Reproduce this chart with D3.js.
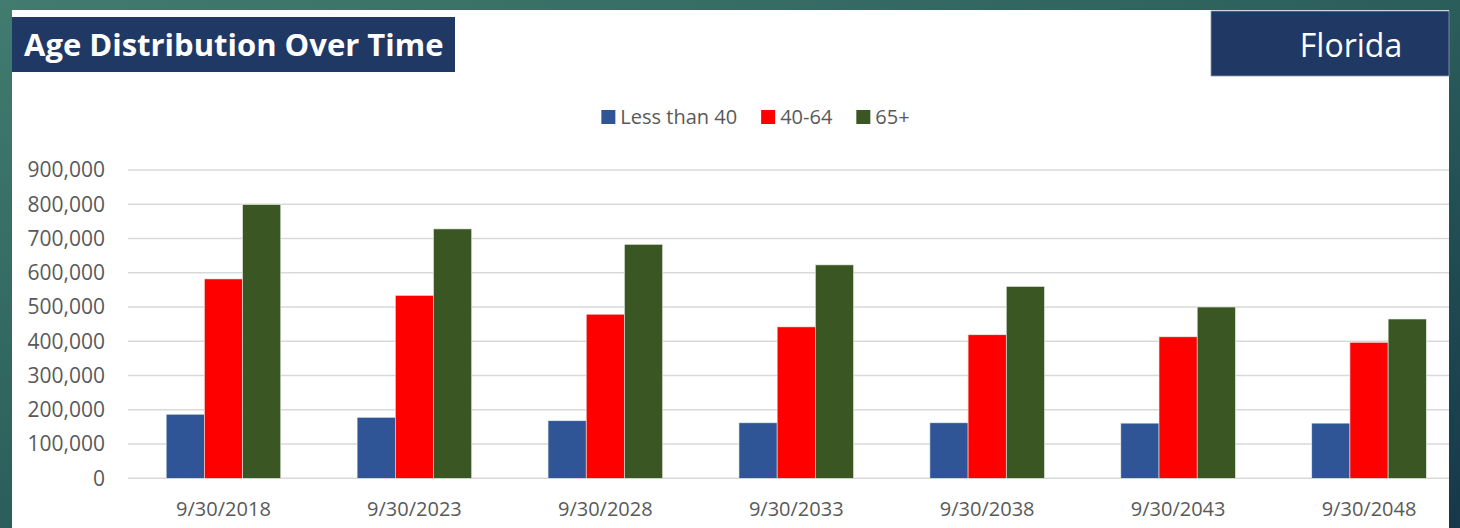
<!DOCTYPE html>
<html>
<head>
<meta charset="utf-8">
<script src="https://cdn.jsdelivr.net/npm/d3@7"></script>
<style>
  body { margin:0; padding:0; overflow:hidden; background:#2a5c5a; }
  svg text { font-family:"Open Sans", "Noto Sans", sans-serif; }
</style>
</head>
<body>
<svg id="chart" width="1460" height="528"></svg>
<script>
// data
var dates = ['9/30/2018','9/30/2023','9/30/2028','9/30/2033','9/30/2038','9/30/2043','9/30/2048'];
var seriesNames = ['Less than 40','40-64','65+'];
var seriesColors = ['#2f5597','#ff0000','#3a5723'];
var under40 = [187000, 178000, 168000, 162000, 162000, 161000, 161000];
var age40to64 = [582000, 534000, 479000, 442000, 419000, 413000, 397000];
var age65plus = [799000, 728000, 683000, 623000, 560000, 500000, 465000];
var yTicks = [0,100000,200000,300000,400000,500000,600000,700000,800000,900000];

var svg = d3.select('#chart');

// slide background
var defs = svg.append('defs');
var grad = defs.append('linearGradient')
  .attr('id','bg')
  .attr('x1','0').attr('y1','0').attr('x2','1').attr('y2','1');
grad.append('stop').attr('offset','0%').attr('stop-color','#417c6f');
grad.append('stop').attr('offset','50%').attr('stop-color','#2b5e5b');
grad.append('stop').attr('offset','100%').attr('stop-color','#16384a');

defs.append('clipPath').attr('id','plotclip')
  .append('rect').attr('x',12).attr('y',10).attr('width',1437).attr('height',518);

svg.append('rect')
  .attr('width',1460).attr('height',528)
  .attr('fill','url(#bg)');

svg.append('rect')
  .attr('x',12).attr('y',10)
  .attr('width',1437).attr('height',518)
  .attr('fill','white');

// title boxes
svg.append('rect')
  .attr('x',12).attr('y',17)
  .attr('width',443).attr('height',55)
  .attr('fill','#1f3864');
svg.append('text')
  .attr('x',24).attr('y',56)
  .style('font-size','31px')
  .style('font-weight','bold')
  .style('fill','white')
  .text('Age Distribution Over Time');

svg.append('rect')
  .attr('x',1211).attr('y',11)
  .attr('width',238).attr('height',65)
  .attr('fill','#1f3864')
  .attr('stroke','#8e9aae')
  .attr('stroke-width',0.8);
svg.append('text')
  .attr('x',1351).attr('y',57)
  .attr('text-anchor','middle')
  .style('font-size','32px')
  .style('fill','white')
  .text('Florida');

// scales
var x = d3.scaleBand()
  .domain(dates)
  .range([128, 1464.5])
  .paddingInner(0.4)
  .paddingOuter(0.2);

var xSub = d3.scaleBand()
  .domain(seriesNames)
  .range([0, x.bandwidth()]);

var y = d3.scaleLinear()
  .domain([0, 900000])
  .range([478.3, 170]);

var plot = svg.append('g').attr('clip-path','url(#plotclip)');

// gridlines
plot.selectAll('.grid')
  .data(yTicks)
  .enter()
  .append('line')
  .attr('class','grid')
  .attr('x1',128).attr('x2',1464)
  .attr('y1',function(d){ return y(d); })
  .attr('y2',function(d){ return y(d); })
  .attr('stroke','#d9d9d9')
  .attr('stroke-width',1.5);

// y labels
svg.selectAll('.ylab')
  .data(yTicks)
  .enter()
  .append('text')
  .attr('class','ylab')
  .attr('x',105)
  .attr('y',function(d){ return y(d); })
  .attr('dy','0.35em')
  .attr('text-anchor','end')
  .style('font-size','21px')
  .style('fill','#595959')
  .text(function(d){ return d3.format(',')(d); });

// bars
var rows = dates.map(function(d,i){
  return {date:d, values:[under40[i], age40to64[i], age65plus[i]]};
});

var groups = plot.selectAll('.grp')
  .data(rows)
  .enter()
  .append('g')
  .attr('class','grp')
  .attr('transform',function(d){ return 'translate(' + x(d.date) + ',0)'; });

groups.selectAll('rect')
  .data(function(d){
    return d.values.map(function(v,j){ return {name:seriesNames[j], value:v, color:seriesColors[j]}; });
  })
  .enter()
  .append('rect')
  .attr('x',function(d){ return xSub(d.name); })
  .attr('width',xSub.bandwidth())
  .attr('y',function(d){ return y(d.value); })
  .attr('height',function(d){ return y(0) - y(d.value); })
  .attr('fill',function(d){ return d.color; })
  .attr('stroke','#e6ece6')
  .attr('stroke-width',0.6);

// x labels
svg.selectAll('.xlab')
  .data(dates)
  .enter()
  .append('text')
  .attr('class','xlab')
  .attr('x',function(d){ return x(d) + x.bandwidth()/2; })
  .attr('y',509)
  .attr('dy','0.35em')
  .attr('text-anchor','middle')
  .style('font-size','20px')
  .style('fill','#595959')
  .text(function(d){ return d; });

// legend
var legend = svg.append('g');
var lx = 0;
seriesNames.forEach(function(name,i){
  var item = legend.append('g').attr('transform','translate(' + lx + ',0)');
  item.append('rect')
    .attr('x',0).attr('y',-7)
    .attr('width',14).attr('height',14)
    .attr('fill',seriesColors[i]);
  var t = item.append('text')
    .attr('x',19).attr('y',0)
    .attr('dy','0.35em')
    .style('font-size','20px')
    .style('fill','#595959')
    .text(name);
  lx += 19 + t.node().getComputedTextLength() + 24;
});
var legendW = lx - 24;
legend.attr('transform','translate(' + (755.5 - legendW/2) + ',117)');
</script>
</body>
</html>
